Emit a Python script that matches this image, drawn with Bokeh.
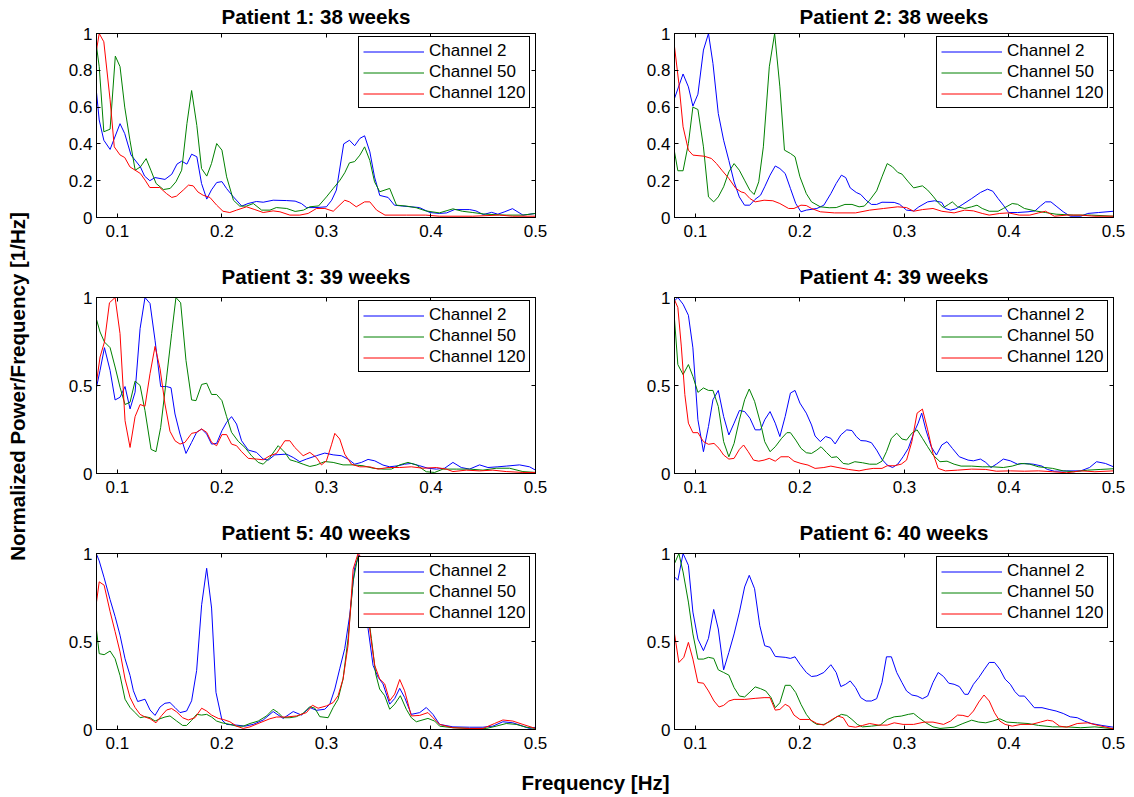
from bokeh.plotting import figure
from bokeh.layouts import gridplot, column, row
from bokeh.models import FixedTicker, LinearAxis, Range1d
from bokeh.embed import file_html
from bokeh.resources import INLINE

FONT = "Liberation Sans"

titles = ["Patient 1: 38 weeks", "Patient 2: 38 weeks", "Patient 3: 39 weeks",
          "Patient 4: 39 weeks", "Patient 5: 40 weeks", "Patient 6: 40 weeks"]
channel_names = ["Channel 2", "Channel 50", "Channel 120"]
channel_colors = ["#0000ff", "#008000", "#ff0000"]
x_ticks = [0.1, 0.2, 0.3, 0.4, 0.5]
x_tick_labels = ["0.1", "0.2", "0.3", "0.4", "0.5"]
y_ticks_fine = [0, 0.2, 0.4, 0.6, 0.8, 1]
y_labels_fine = ["0", "0.2", "0.4", "0.6", "0.8", "1"]
y_ticks_coarse = [0, 0.5, 1]
y_labels_coarse = ["0", "0.5", "1"]
x_axis_title = "Frequency [Hz]"
y_axis_title = "Normalized Power/Frequency [1/Hz]"

# (frequency [Hz], normalized power)
p1_ch2 = [(0.08,0.68),(0.0826,0.53),(0.087,0.42),(0.093,0.37),(0.1025,0.51),(0.107,0.456),(0.113,0.34),(0.122,0.275),(0.126,0.225),(0.131,0.2),(0.136,0.217),(0.1455,0.207),(0.152,0.235),(0.157,0.29),(0.1615,0.306),(0.1665,0.29),(0.171,0.344),(0.176,0.33),(0.1805,0.185),(0.1855,0.1),(0.19,0.15),(0.195,0.19),(0.2,0.195),(0.2045,0.157),(0.211,0.112),(0.219,0.062),(0.225,0.076),(0.233,0.087),(0.2395,0.083),(0.249,0.094),(0.262,0.092),(0.27,0.089),(0.276,0.076),(0.281,0.054),(0.29,0.054),(0.3,0.058),(0.305,0.094),(0.3095,0.149),(0.3165,0.4),(0.322,0.42),(0.327,0.39),(0.332,0.43),(0.3365,0.444),(0.3415,0.357),(0.346,0.22),(0.351,0.12),(0.359,0.109),(0.365,0.067),(0.373,0.062),(0.381,0.058),(0.389,0.054),(0.399,0.027),(0.408,0.022),(0.415,0.025),(0.4225,0.043),(0.437,0.043),(0.443,0.036),(0.45,0.016),(0.458,0.028),(0.464,0.018),(0.47,0.03),(0.478,0.048),(0.488,0.013),(0.5,0.022)]
p1_ch50 = [(0.08,0.93),(0.0826,0.82),(0.087,0.466),(0.093,0.48),(0.098,0.877),(0.1025,0.82),(0.107,0.6),(0.112,0.42),(0.117,0.257),(0.122,0.275),(0.1275,0.32),(0.132,0.257),(0.137,0.185),(0.144,0.152),(0.1505,0.158),(0.156,0.194),(0.1615,0.257),(0.1665,0.51),(0.171,0.69),(0.176,0.5),(0.1805,0.266),(0.1855,0.225),(0.19,0.293),(0.195,0.402),(0.2,0.366),(0.2045,0.221),(0.211,0.094),(0.217,0.062),(0.2235,0.062),(0.23,0.076),(0.238,0.04),(0.246,0.04),(0.252,0.054),(0.262,0.049),(0.27,0.033),(0.278,0.04),(0.284,0.058),(0.2925,0.063),(0.3,0.112),(0.3065,0.158),(0.313,0.203),(0.3175,0.243),(0.322,0.297),(0.327,0.304),(0.332,0.339),(0.3365,0.384),(0.3415,0.31),(0.346,0.194),(0.351,0.14),(0.3605,0.158),(0.367,0.067),(0.3765,0.062),(0.386,0.053),(0.395,0.036),(0.408,0.025),(0.421,0.047),(0.43,0.034),(0.44,0.027),(0.452,0.018),(0.472,0.013),(0.488,0.013),(0.5,0.022)]
p1_ch120 = [(0.08,0.91),(0.0826,1.0),(0.087,0.955),(0.093,0.64),(0.097,0.384),(0.1025,0.34),(0.107,0.326),(0.112,0.275),(0.122,0.239),(0.1265,0.203),(0.131,0.163),(0.1405,0.163),(0.147,0.13),(0.152,0.109),(0.1565,0.116),(0.163,0.149),(0.168,0.176),(0.1725,0.172),(0.177,0.139),(0.182,0.121),(0.1885,0.109),(0.195,0.067),(0.201,0.034),(0.2075,0.027),(0.214,0.04),(0.2235,0.058),(0.2315,0.043),(0.2395,0.027),(0.249,0.036),(0.2555,0.031),(0.265,0.013),(0.2745,0.013),(0.2825,0.022),(0.2905,0.049),(0.2985,0.049),(0.3065,0.034),(0.3175,0.094),(0.322,0.085),(0.3285,0.058),(0.3365,0.085),(0.3415,0.085),(0.348,0.04),(0.356,0.013),(0.3765,0.013),(0.395,0.013),(0.408,0.007),(0.44,0.007),(0.4655,0.013),(0.478,0.007),(0.5,0.007)]

p2_ch2 = [(0.08,0.647),(0.0882,0.78),(0.0933,0.71),(0.0976,0.605),(0.1024,0.67),(0.1077,0.91),(0.1125,1.0),(0.1168,0.837),(0.1219,0.565),(0.127,0.42),(0.132,0.31),(0.137,0.194),(0.142,0.112),(0.147,0.067),(0.152,0.067),(0.157,0.098),(0.1623,0.121),(0.1663,0.167),(0.1714,0.23),(0.1764,0.28),(0.1808,0.266),(0.1859,0.239),(0.1909,0.158),(0.196,0.076),(0.201,0.031),(0.2061,0.04),(0.2162,0.049),(0.2229,0.067),(0.2296,0.13),(0.2347,0.185),(0.2397,0.23),(0.2438,0.217),(0.2481,0.161),(0.2539,0.136),(0.2582,0.125),(0.2633,0.094),(0.2684,0.071),(0.2734,0.071),(0.2785,0.083),(0.2902,0.082),(0.2953,0.072),(0.302,0.04),(0.3088,0.036),(0.3138,0.058),(0.3222,0.085),(0.329,0.091),(0.3357,0.082),(0.339,0.049),(0.3441,0.04),(0.3492,0.047),(0.3559,0.072),(0.3643,0.103),(0.3727,0.136),(0.3795,0.154),(0.3845,0.143),(0.3896,0.103),(0.3946,0.067),(0.3997,0.027),(0.4081,0.027),(0.4182,0.031),(0.4249,0.036),(0.43,0.062),(0.435,0.085),(0.4401,0.085),(0.4451,0.062),(0.4519,0.031),(0.4586,0.007),(0.4687,0.007),(0.4754,0.022),(0.4855,0.027),(0.5,0.034)]
p2_ch50 = [(0.08,0.357),(0.0832,0.254),(0.0882,0.254),(0.0933,0.402),(0.0976,0.6),(0.1024,0.587),(0.1077,0.384),(0.1125,0.112),(0.1175,0.085),(0.1219,0.112),(0.127,0.167),(0.132,0.248),(0.137,0.293),(0.142,0.257),(0.147,0.203),(0.152,0.149),(0.1562,0.125),(0.1606,0.194),(0.165,0.384),(0.1707,0.819),(0.1758,1.0),(0.1808,0.71),(0.1852,0.366),(0.1909,0.348),(0.1953,0.33),(0.2,0.221),(0.2061,0.13),(0.2111,0.085),(0.2195,0.058),(0.228,0.053),(0.2347,0.054),(0.2431,0.071),(0.2498,0.071),(0.2566,0.058),(0.2616,0.062),(0.2667,0.094),(0.2734,0.145),(0.2785,0.221),(0.2835,0.293),(0.2886,0.275),(0.2936,0.245),(0.2976,0.236),(0.3037,0.194),(0.3088,0.161),(0.3172,0.172),(0.3222,0.149),(0.3273,0.116),(0.3323,0.08),(0.3374,0.054),(0.3424,0.072),(0.3458,0.085),(0.3508,0.058),(0.3576,0.049),(0.3643,0.058),(0.3694,0.067),(0.3744,0.049),(0.3811,0.034),(0.3896,0.034),(0.3946,0.049),(0.4031,0.076),(0.4081,0.072),(0.4148,0.049),(0.4249,0.036),(0.435,0.027),(0.4451,0.018),(0.4619,0.013),(0.4788,0.013),(0.5,0.007)]
p2_ch120 = [(0.08,0.928),(0.0842,0.728),(0.0882,0.493),(0.0933,0.366),(0.0976,0.339),(0.1084,0.333),(0.1152,0.321),(0.1202,0.293),(0.1253,0.257),(0.132,0.212),(0.1387,0.158),(0.1438,0.139),(0.1471,0.134),(0.1522,0.103),(0.1572,0.085),(0.1657,0.094),(0.1741,0.091),(0.1808,0.076),(0.1892,0.049),(0.1943,0.049),(0.201,0.067),(0.2061,0.065),(0.2111,0.049),(0.2195,0.031),(0.233,0.025),(0.2532,0.025),(0.2667,0.04),(0.2801,0.049),(0.2936,0.058),(0.302,0.054),(0.3088,0.034),(0.3172,0.043),(0.3273,0.049),(0.3357,0.034),(0.3475,0.025),(0.3576,0.04),(0.366,0.036),(0.3744,0.022),(0.3811,0.013),(0.3912,0.022),(0.3997,0.025),(0.4098,0.013),(0.4199,0.013),(0.4283,0.025),(0.435,0.034),(0.4434,0.007),(0.4552,0.013),(0.4687,0.013),(0.4822,0.007),(0.5,0.007)]

p3_ch2 = [(0.08,0.49),(0.0834,0.586),(0.0876,0.715),(0.093,0.586),(0.0978,0.418),(0.1025,0.433),(0.1073,0.494),(0.1121,0.367),(0.1169,0.462),(0.1217,0.823),(0.1264,1.0),(0.1312,0.966),(0.136,0.757),(0.1414,0.494),(0.1471,0.494),(0.1513,0.487),(0.1551,0.338),(0.1599,0.224),(0.1656,0.114),(0.171,0.177),(0.1758,0.234),(0.1806,0.253),(0.1854,0.224),(0.1901,0.167),(0.1949,0.171),(0.2,0.243),(0.2045,0.291),(0.2092,0.323),(0.214,0.281),(0.2188,0.186),(0.2252,0.133),(0.2331,0.12),(0.2395,0.082),(0.2443,0.076),(0.2506,0.106),(0.2618,0.11),(0.2682,0.091),(0.2745,0.067),(0.2809,0.082),(0.2904,0.101),(0.2984,0.116),(0.3064,0.106),(0.3143,0.101),(0.3207,0.082),(0.327,0.053),(0.3334,0.063),(0.3398,0.08),(0.3462,0.072),(0.3541,0.048),(0.3605,0.038),(0.3685,0.044),(0.3748,0.053),(0.3812,0.057),(0.3892,0.044),(0.3971,0.03),(0.4051,0.025),(0.4131,0.03),(0.421,0.063),(0.429,0.034),(0.4369,0.025),(0.4465,0.049),(0.4545,0.034),(0.464,0.038),(0.472,0.042),(0.4847,0.049),(0.4943,0.038),(0.5,0.019)]
p3_ch50 = [(0.08,0.875),(0.0834,0.804),(0.0876,0.747),(0.093,0.715),(0.0978,0.605),(0.1025,0.49),(0.1073,0.392),(0.1121,0.405),(0.1169,0.525),(0.1217,0.5),(0.1264,0.357),(0.1322,0.137),(0.1369,0.124),(0.1414,0.262),(0.1471,0.548),(0.1519,0.795),(0.156,1.0),(0.1605,0.97),(0.1656,0.643),(0.171,0.418),(0.1752,0.414),(0.1806,0.506),(0.1854,0.513),(0.1901,0.449),(0.1949,0.449),(0.2,0.414),(0.2045,0.323),(0.2092,0.234),(0.2156,0.183),(0.222,0.148),(0.2283,0.101),(0.2347,0.063),(0.2395,0.053),(0.2459,0.091),(0.2538,0.158),(0.2602,0.12),(0.265,0.078),(0.2713,0.067),(0.2777,0.053),(0.2841,0.04),(0.2904,0.048),(0.2984,0.068),(0.3064,0.063),(0.3159,0.049),(0.3255,0.049),(0.335,0.044),(0.3446,0.03),(0.3541,0.025),(0.3621,0.025),(0.3701,0.049),(0.378,0.063),(0.386,0.049),(0.3955,0.01),(0.4035,0.006),(0.4115,0.025),(0.4242,0.025),(0.4369,0.025),(0.4497,0.019),(0.4624,0.03),(0.4752,0.03),(0.4879,0.011),(0.5,0.006)]
p3_ch120 = [(0.08,0.519),(0.0834,0.662),(0.0876,0.747),(0.0924,0.97),(0.0978,1.0),(0.1025,0.795),(0.1073,0.3),(0.1121,0.148),(0.1169,0.323),(0.1217,0.392),(0.1264,0.382),(0.1312,0.567),(0.136,0.722),(0.1408,0.595),(0.1455,0.395),(0.1503,0.24),(0.1551,0.186),(0.1599,0.167),(0.1646,0.177),(0.171,0.228),(0.1758,0.234),(0.1806,0.253),(0.1854,0.234),(0.1901,0.177),(0.1949,0.158),(0.2,0.221),(0.2045,0.221),(0.2092,0.167),(0.214,0.158),(0.2188,0.124),(0.2252,0.086),(0.2331,0.082),(0.2395,0.078),(0.2459,0.101),(0.2522,0.114),(0.2602,0.186),(0.265,0.186),(0.2697,0.148),(0.2777,0.101),(0.2841,0.12),(0.2904,0.091),(0.2952,0.049),(0.3,0.072),(0.3048,0.163),(0.308,0.228),(0.3127,0.196),(0.3175,0.11),(0.3239,0.053),(0.3318,0.038),(0.3414,0.038),(0.3494,0.025),(0.3589,0.034),(0.3701,0.034),(0.3812,0.038),(0.3924,0.03),(0.4051,0.034),(0.4146,0.025),(0.421,0.011),(0.4338,0.019),(0.4465,0.015),(0.4592,0.019),(0.472,0.011),(0.4879,0.006),(0.5,0.006)]

p4_ch2 = [(0.08,0.981),(0.0832,1.0),(0.0882,0.962),(0.0933,0.899),(0.0976,0.714),(0.1024,0.305),(0.1077,0.124),(0.1125,0.267),(0.1168,0.419),(0.1219,0.472),(0.127,0.324),(0.132,0.219),(0.137,0.286),(0.1421,0.358),(0.1471,0.352),(0.1522,0.314),(0.1572,0.248),(0.1623,0.248),(0.1663,0.305),(0.1714,0.352),(0.1764,0.286),(0.1808,0.21),(0.1859,0.324),(0.1909,0.457),(0.1953,0.472),(0.2,0.4),(0.2061,0.343),(0.2111,0.276),(0.2145,0.213),(0.2195,0.181),(0.2246,0.21),(0.2296,0.2),(0.2337,0.168),(0.2391,0.219),(0.2448,0.248),(0.2498,0.244),(0.2539,0.21),(0.2582,0.187),(0.2633,0.185),(0.2684,0.175),(0.2734,0.133),(0.2785,0.08),(0.2835,0.048),(0.2886,0.034),(0.2936,0.053),(0.2987,0.095),(0.3037,0.143),(0.3088,0.229),(0.3131,0.286),(0.3165,0.343),(0.3205,0.248),(0.3256,0.152),(0.3306,0.105),(0.3357,0.162),(0.3407,0.181),(0.3458,0.143),(0.3525,0.095),(0.3609,0.076),(0.366,0.072),(0.3727,0.082),(0.3778,0.063),(0.3828,0.034),(0.3879,0.053),(0.3946,0.082),(0.4013,0.072),(0.4081,0.053),(0.4148,0.057),(0.4232,0.053),(0.4316,0.042),(0.4367,0.023),(0.4434,0.013),(0.4552,0.015),(0.4687,0.015),(0.4771,0.034),(0.4838,0.067),(0.4923,0.057),(0.5,0.038)]
p4_ch50 = [(0.08,0.876),(0.0832,0.619),(0.0882,0.562),(0.0933,0.619),(0.0976,0.552),(0.1024,0.461),(0.1077,0.486),(0.1125,0.472),(0.1168,0.472),(0.1219,0.381),(0.127,0.181),(0.132,0.095),(0.137,0.171),(0.1421,0.305),(0.1471,0.419),(0.1515,0.48),(0.1566,0.41),(0.1623,0.286),(0.1663,0.181),(0.1714,0.124),(0.1764,0.152),(0.1825,0.2),(0.1875,0.232),(0.1909,0.232),(0.196,0.19),(0.201,0.143),(0.2061,0.118),(0.2111,0.114),(0.2162,0.133),(0.2202,0.152),(0.2253,0.12),(0.2303,0.091),(0.2354,0.095),(0.2414,0.057),(0.2465,0.053),(0.2525,0.067),(0.2599,0.061),(0.2667,0.053),(0.2734,0.053),(0.2785,0.07),(0.2828,0.124),(0.2875,0.2),(0.2926,0.229),(0.2976,0.196),(0.302,0.19),(0.3071,0.229),(0.3121,0.248),(0.3172,0.2),(0.3222,0.152),(0.3273,0.105),(0.334,0.067),(0.3407,0.07),(0.3475,0.053),(0.3542,0.042),(0.3643,0.042),(0.3744,0.038),(0.3845,0.038),(0.3946,0.034),(0.4031,0.042),(0.4114,0.057),(0.4199,0.053),(0.4283,0.038),(0.4418,0.029),(0.4519,0.015),(0.4619,0.01),(0.4754,0.019),(0.4872,0.023),(0.5,0.027)]
p4_ch120 = [(0.08,0.987),(0.0832,0.943),(0.0865,0.724),(0.0899,0.448),(0.0933,0.286),(0.0976,0.232),(0.1024,0.232),(0.1077,0.181),(0.1125,0.166),(0.1178,0.171),(0.1226,0.143),(0.127,0.105),(0.132,0.082),(0.137,0.086),(0.1421,0.137),(0.1461,0.162),(0.1505,0.124),(0.1556,0.076),(0.1606,0.07),(0.1657,0.076),(0.1707,0.086),(0.1764,0.07),(0.1818,0.095),(0.1892,0.095),(0.1943,0.07),(0.201,0.057),(0.2077,0.048),(0.2145,0.029),(0.2229,0.034),(0.2296,0.042),(0.2364,0.034),(0.2465,0.023),(0.2566,0.015),(0.2633,0.023),(0.2701,0.029),(0.2785,0.029),(0.2835,0.044),(0.2902,0.044),(0.2969,0.053),(0.302,0.076),(0.3071,0.181),(0.3121,0.343),(0.3172,0.366),(0.3222,0.248),(0.3273,0.114),(0.3323,0.029),(0.3391,0.015),(0.3508,0.019),(0.3643,0.025),(0.3778,0.023),(0.3879,0.013),(0.4013,0.015),(0.4148,0.013),(0.4283,0.015),(0.4418,0.01),(0.4552,0.004),(0.4687,0.015),(0.4822,0.01),(0.5,0.015)]

p5_ch2 = [(0.08,0.996),(0.0826,0.958),(0.0873,0.862),(0.093,0.738),(0.0978,0.642),(0.1025,0.536),(0.1073,0.402),(0.1121,0.307),(0.1153,0.22),(0.1194,0.159),(0.1264,0.172),(0.1312,0.111),(0.136,0.08),(0.1408,0.128),(0.1455,0.149),(0.1503,0.153),(0.1551,0.125),(0.1599,0.096),(0.1662,0.105),(0.171,0.163),(0.1758,0.335),(0.1806,0.709),(0.1854,0.916),(0.1901,0.69),(0.1943,0.211),(0.2,0.054),(0.2045,0.029),(0.214,0.025),(0.222,0.019),(0.2299,0.029),(0.2395,0.054),(0.249,0.102),(0.2586,0.063),(0.2682,0.102),(0.2761,0.082),(0.2841,0.125),(0.2904,0.109),(0.2984,0.115),(0.3032,0.144),(0.308,0.23),(0.3127,0.345),(0.3175,0.46),(0.3223,0.651),(0.327,0.92),(0.3312,0.992),(0.335,0.843),(0.3398,0.575),(0.3446,0.364),(0.3494,0.297),(0.3541,0.259),(0.3605,0.144),(0.3653,0.176),(0.3701,0.234),(0.3748,0.182),(0.3812,0.086),(0.3892,0.096),(0.3955,0.125),(0.4019,0.086),(0.4083,0.029),(0.421,0.015),(0.4369,0.013),(0.4497,0.013),(0.4592,0.019),(0.4688,0.044),(0.4783,0.038),(0.4879,0.019),(0.4943,0.006),(0.5,0.013)]
p5_ch50 = [(0.08,0.565),(0.0826,0.431),(0.0873,0.425),(0.093,0.446),(0.0978,0.402),(0.1025,0.307),(0.1073,0.172),(0.1121,0.125),(0.1169,0.096),(0.1217,0.067),(0.1264,0.073),(0.1312,0.067),(0.136,0.048),(0.1408,0.061),(0.1455,0.071),(0.1503,0.077),(0.1567,0.048),(0.1624,0.023),(0.1662,0.023),(0.171,0.052),(0.1758,0.086),(0.1806,0.082),(0.1854,0.086),(0.1901,0.071),(0.1949,0.048),(0.2,0.038),(0.2076,0.029),(0.214,0.019),(0.2204,0.019),(0.2268,0.034),(0.2347,0.048),(0.2427,0.077),(0.249,0.115),(0.2538,0.096),(0.2586,0.067),(0.265,0.067),(0.2713,0.073),(0.2777,0.092),(0.2841,0.13),(0.2889,0.121),(0.2936,0.073),(0.3016,0.067),(0.3064,0.125),(0.3111,0.172),(0.3159,0.287),(0.3207,0.517),(0.3255,0.843),(0.3302,0.987),(0.3334,0.939),(0.3382,0.728),(0.343,0.517),(0.3471,0.316),(0.3509,0.23),(0.3557,0.192),(0.3605,0.115),(0.3653,0.144),(0.3707,0.192),(0.3764,0.115),(0.3812,0.067),(0.386,0.044),(0.3971,0.063),(0.4035,0.048),(0.4083,0.019),(0.421,0.01),(0.4369,0.006),(0.4529,0.006),(0.4624,0.019),(0.472,0.034),(0.4815,0.029),(0.4911,0.013),(0.5,0.006)]
p5_ch120 = [(0.08,0.724),(0.0826,0.839),(0.0873,0.82),(0.093,0.67),(0.0978,0.556),(0.1025,0.441),(0.1073,0.287),(0.1121,0.182),(0.1169,0.125),(0.1217,0.086),(0.1264,0.071),(0.1312,0.061),(0.1369,0.038),(0.1424,0.08),(0.1471,0.111),(0.1519,0.119),(0.1567,0.1),(0.1624,0.067),(0.1678,0.054),(0.1742,0.067),(0.1806,0.121),(0.1854,0.105),(0.1901,0.082),(0.1965,0.063),(0.2013,0.057),(0.2076,0.044),(0.214,0.019),(0.2204,0.006),(0.2268,0.015),(0.2363,0.038),(0.2459,0.061),(0.2522,0.071),(0.2618,0.071),(0.2713,0.077),(0.2809,0.096),(0.2866,0.138),(0.292,0.121),(0.3,0.134),(0.3064,0.153),(0.3111,0.192),(0.3159,0.287),(0.3207,0.479),(0.3255,0.91),(0.3302,1.0),(0.3334,0.977),(0.3382,0.728),(0.343,0.498),(0.3462,0.364),(0.3509,0.287),(0.3557,0.259),(0.3605,0.163),(0.3653,0.201),(0.3701,0.284),(0.3748,0.22),(0.3812,0.077),(0.3892,0.08),(0.3971,0.096),(0.4019,0.067),(0.4083,0.029),(0.421,0.01),(0.4369,0.006),(0.4497,0.006),(0.4608,0.034),(0.4688,0.054),(0.4783,0.048),(0.4879,0.029),(0.5,0.006)]

p6_ch2 = [(0.08,0.867),(0.0832,0.848),(0.0882,1.0),(0.0933,0.933),(0.0976,0.667),(0.1024,0.514),(0.1077,0.448),(0.1125,0.518),(0.1175,0.682),(0.1219,0.571),(0.127,0.339),(0.132,0.438),(0.137,0.543),(0.1421,0.667),(0.1471,0.81),(0.1515,0.876),(0.1566,0.8),(0.1616,0.59),(0.1663,0.476),(0.1714,0.467),(0.1764,0.415),(0.1859,0.41),(0.1909,0.404),(0.1953,0.413),(0.2,0.371),(0.2061,0.324),(0.2111,0.301),(0.2162,0.305),(0.2229,0.324),(0.2296,0.368),(0.2347,0.324),(0.2391,0.244),(0.2438,0.257),(0.2481,0.276),(0.2532,0.238),(0.2582,0.181),(0.2633,0.162),(0.2684,0.162),(0.2734,0.175),(0.2785,0.267),(0.2828,0.413),(0.2875,0.413),(0.2926,0.324),(0.2976,0.267),(0.302,0.219),(0.3071,0.196),(0.3121,0.19),(0.3172,0.175),(0.3222,0.19),(0.3273,0.267),(0.3323,0.324),(0.3374,0.301),(0.3424,0.263),(0.3475,0.257),(0.3525,0.244),(0.3576,0.2),(0.3609,0.2),(0.366,0.257),(0.3711,0.295),(0.3761,0.339),(0.3811,0.381),(0.3862,0.381),(0.3912,0.343),(0.3963,0.286),(0.4013,0.257),(0.4057,0.215),(0.4098,0.19),(0.4148,0.19),(0.4189,0.162),(0.4242,0.124),(0.4316,0.124),(0.4384,0.114),(0.4451,0.105),(0.4519,0.091),(0.4586,0.072),(0.4653,0.067),(0.4721,0.048),(0.4788,0.034),(0.4889,0.023),(0.5,0.013)]
p6_ch50 = [(0.08,0.943),(0.0842,1.0),(0.0882,0.895),(0.0933,0.724),(0.0976,0.543),(0.1024,0.4),(0.1077,0.4),(0.1125,0.41),(0.1175,0.404),(0.1219,0.339),(0.127,0.324),(0.132,0.309),(0.137,0.238),(0.1421,0.19),(0.1471,0.185),(0.1522,0.213),(0.1572,0.242),(0.1623,0.232),(0.1673,0.219),(0.1724,0.181),(0.1764,0.124),(0.1808,0.152),(0.1859,0.251),(0.1909,0.251),(0.196,0.21),(0.201,0.143),(0.2061,0.086),(0.2111,0.048),(0.2162,0.029),(0.2229,0.029),(0.2296,0.048),(0.2347,0.07),(0.2397,0.086),(0.2448,0.08),(0.2498,0.057),(0.2549,0.029),(0.2599,0.015),(0.2684,0.019),(0.2768,0.025),(0.2835,0.057),(0.2902,0.072),(0.2969,0.076),(0.3037,0.086),(0.3088,0.091),(0.3138,0.067),(0.3205,0.038),(0.3273,0.015),(0.334,0.006),(0.3475,0.013),(0.3559,0.034),(0.3643,0.053),(0.3711,0.042),(0.3778,0.038),(0.3845,0.048),(0.3912,0.061),(0.398,0.042),(0.4081,0.038),(0.4182,0.034),(0.4283,0.023),(0.4418,0.015),(0.4552,0.015),(0.4687,0.01),(0.4822,0.015),(0.5,0.004)]
p6_ch120 = [(0.08,0.543),(0.0842,0.381),(0.0889,0.41),(0.0933,0.495),(0.0976,0.4),(0.1024,0.267),(0.1077,0.263),(0.1125,0.219),(0.1178,0.162),(0.1226,0.128),(0.127,0.137),(0.132,0.162),(0.137,0.171),(0.1471,0.171),(0.1572,0.177),(0.1657,0.181),(0.1714,0.181),(0.1764,0.11),(0.1808,0.114),(0.1859,0.143),(0.1899,0.13),(0.1943,0.082),(0.2,0.057),(0.2094,0.057),(0.2162,0.034),(0.2229,0.025),(0.2296,0.053),(0.2364,0.076),(0.2414,0.067),(0.2465,0.019),(0.2532,0.013),(0.2599,0.023),(0.2667,0.034),(0.2751,0.025),(0.2835,0.025),(0.2902,0.038),(0.2987,0.029),(0.3088,0.029),(0.3189,0.042),(0.3273,0.042),(0.3374,0.029),(0.3441,0.048),(0.3508,0.082),(0.3559,0.08),(0.3609,0.072),(0.366,0.105),(0.3711,0.156),(0.3761,0.196),(0.3811,0.162),(0.3862,0.095),(0.3912,0.048),(0.3963,0.029),(0.4031,0.019),(0.4114,0.029),(0.4215,0.029),(0.43,0.042),(0.4367,0.053),(0.4418,0.048),(0.4485,0.019),(0.4552,0.013),(0.4653,0.034),(0.4754,0.038),(0.4855,0.023),(0.5,0.004)]

panel_series = [
    [p1_ch2, p1_ch50, p1_ch120], [p2_ch2, p2_ch50, p2_ch120],
    [p3_ch2, p3_ch50, p3_ch120], [p4_ch2, p4_ch50, p4_ch120],
    [p5_ch2, p5_ch50, p5_ch120], [p6_ch2, p6_ch50, p6_ch120],
]

# layout geometry (pixels)
YLAB_W = 40
COL_W = [580 - YLAB_W, 554]
COL_BL = [96 - YLAB_W, 94]
COL_BR = [45, 21]
ROW_H = [258, 256, 254]
ROW_BT = [33, 39, 39]
ROW_BB = [41, 41, 39]
TITLE_STANDOFF = [6, 10, 10]
FRAME_W = 439
LEG_H = 70
LEG_W = 167


def style_axis(ax, ticks, labels, standoff, show_labels=True):
    ax.ticker = FixedTicker(ticks=ticks)
    ax.major_tick_in = 4
    ax.major_tick_out = 0
    ax.minor_tick_in = 0
    ax.minor_tick_out = 0
    ax.axis_line_color = "black"
    ax.major_tick_line_color = "black"
    ax.major_label_text_font = FONT
    ax.major_label_standoff = standoff
    if show_labels:
        ax.major_label_overrides = dict(zip(ticks, labels))
        ax.major_label_text_color = "black"
        ax.major_label_text_font_size = "17px"
    else:
        ax.major_label_text_color = None
        ax.major_label_text_font_size = "0px"


figs = []
for i, (title, series) in enumerate(zip(titles, panel_series)):
    r, c = divmod(i, 2)
    yt, yl = (y_ticks_fine, y_labels_fine) if r == 0 else (y_ticks_coarse, y_labels_coarse)
    p = figure(width=COL_W[c], height=ROW_H[r], title_location=None,
               x_range=Range1d(0.08, 0.5), y_range=Range1d(0, 1),
               output_backend="svg", toolbar_location=None,
               min_border_left=COL_BL[c], min_border_right=COL_BR[c],
               min_border_top=ROW_BT[r], min_border_bottom=ROW_BB[r])
    for pts, name, color in zip(series, channel_names, channel_colors):
        fx = [a for a, b in pts]
        fy = [b for a, b in pts]
        p.line(fx, fy, line_color=color, line_width=1, legend_label=name)
    p.xgrid.visible = False
    p.ygrid.visible = False
    p.outline_line_color = "black"
    p.outline_line_alpha = 1
    style_axis(p.below[0], x_ticks, x_tick_labels, 7)
    style_axis(p.left[0], yt, yl, 4)
    # top axis: mirrored inward ticks, and the panel title as its label
    top_ax = LinearAxis()
    style_axis(top_ax, x_ticks, x_tick_labels, 0, show_labels=False)
    top_ax.axis_label = title
    top_ax.axis_label_text_font = FONT
    top_ax.axis_label_text_font_size = "20.6px"
    top_ax.axis_label_text_font_style = "bold"
    top_ax.axis_label_text_color = "black"
    top_ax.axis_label_standoff = TITLE_STANDOFF[r]
    p.add_layout(top_ax, "above")
    right_ax = LinearAxis()
    style_axis(right_ax, yt, yl, 0, show_labels=False)
    p.add_layout(right_ax, "right")

    frame_h = ROW_H[r] - ROW_BT[r] - ROW_BB[r]
    lg = p.legend[0]
    lg.location = (FRAME_W - 10 - LEG_W, frame_h - 5 - LEG_H)
    lg.margin = 0
    lg.padding = 4
    lg.spacing = 1
    lg.label_height = 20
    lg.glyph_height = 19
    lg.glyph_width = 61
    lg.label_standoff = 5
    lg.label_text_font = FONT
    lg.label_text_font_size = "17px"
    lg.label_text_color = "black"
    lg.border_line_color = "black"
    lg.border_line_width = 1
    lg.border_line_alpha = 1
    lg.background_fill_color = "white"
    lg.background_fill_alpha = 1
    figs.append(p)

# y-axis title shared by all panels
yf = figure(width=YLAB_W, height=sum(ROW_H), output_backend="svg", toolbar_location=None,
            title_location="left", min_border_left=28, min_border_right=0,
            min_border_top=4, min_border_bottom=0,
            x_axis_location=None, y_axis_location=None)
yf.outline_line_color = None
yf.xgrid.visible = False
yf.ygrid.visible = False
yf.title.text = y_axis_title
yf.title.align = "center"
yf.title.text_font = FONT
yf.title.text_font_size = "20.5px"
yf.title.text_font_style = "bold"
yf.title.text_color = "black"
yf.title.standoff = 0

# x-axis title shared by all panels
xf = figure(width=1134, height=797 - sum(ROW_H), output_backend="svg", toolbar_location=None,
            min_border_left=56, min_border_right=0, min_border_top=0, min_border_bottom=0,
            x_axis_location=None, y_axis_location=None)
xf.outline_line_color = None
xf.xgrid.visible = False
xf.ygrid.visible = False
xf.title.text = x_axis_title
xf.title.align = "center"
xf.title.text_font = FONT
xf.title.text_font_size = "20.5px"
xf.title.text_font_style = "bold"
xf.title.text_color = "black"
xf.title.standoff = 0

grid = gridplot([[figs[0], figs[1]], [figs[2], figs[3]], [figs[4], figs[5]]],
                toolbar_location=None)
page = column(row(yf, grid), xf)

open("out.html", "w").write(file_html(page, INLINE))
